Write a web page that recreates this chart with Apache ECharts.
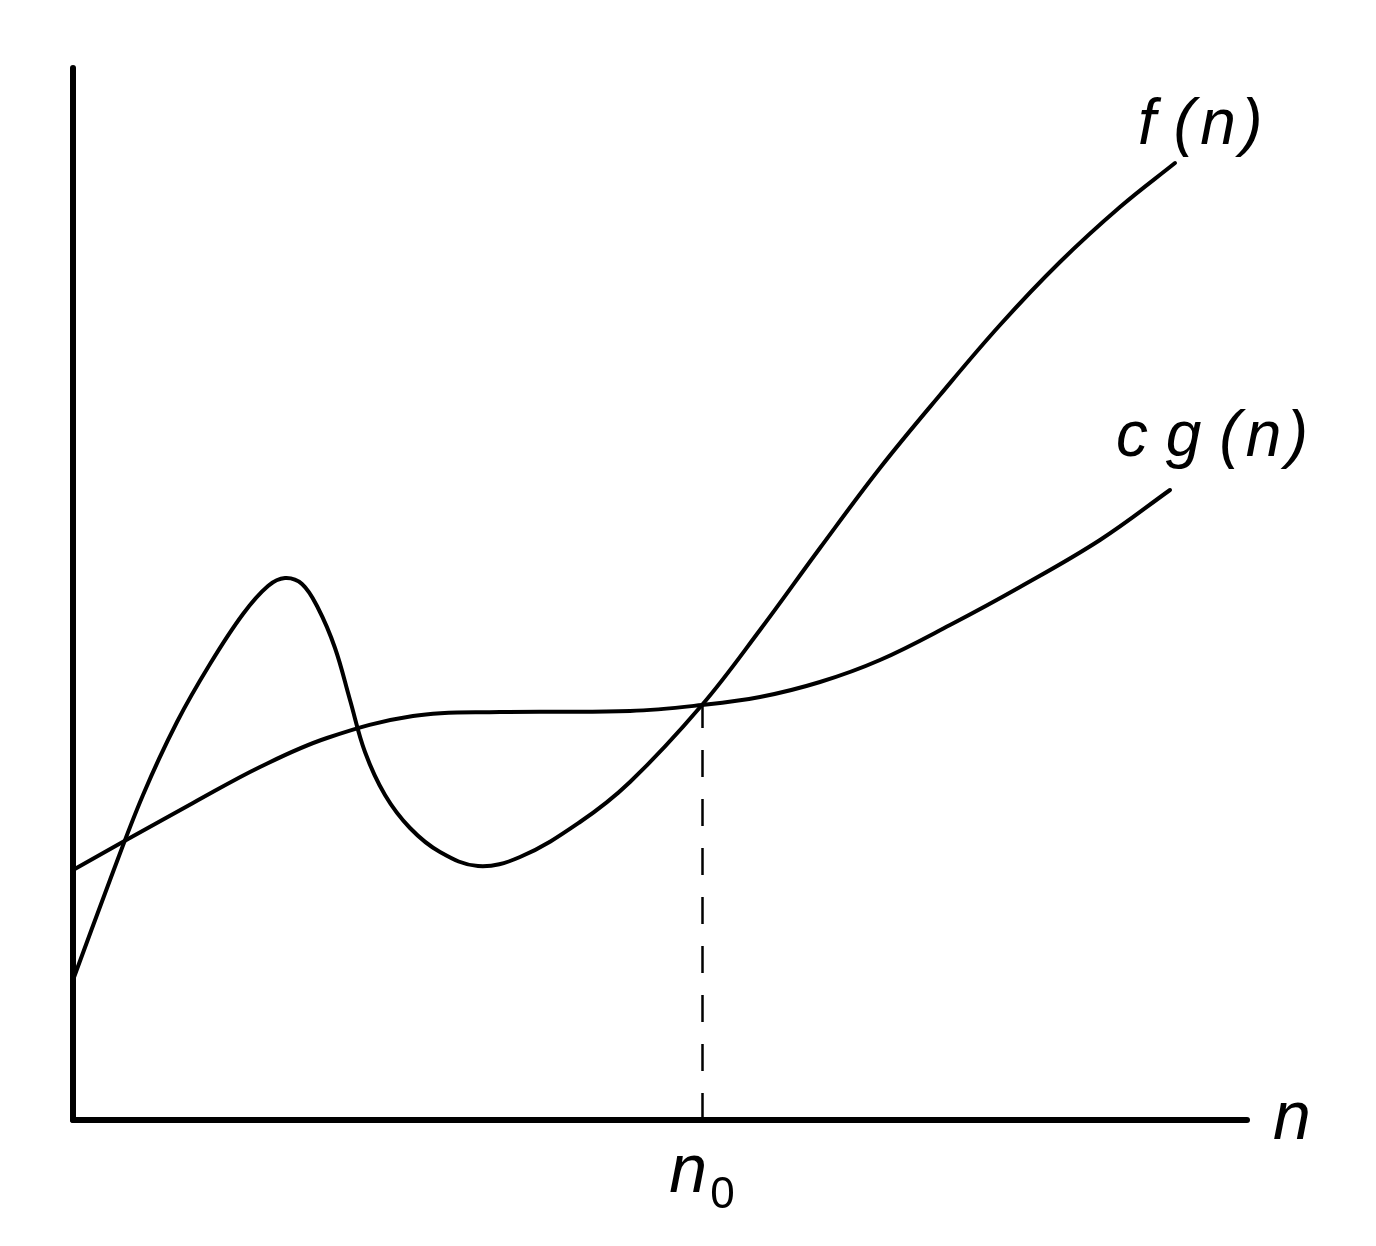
<!DOCTYPE html>
<html>
<head>
<meta charset="utf-8">
<script src="https://cdn.jsdelivr.net/npm/echarts@6/dist/echarts.min.js"></script>
<style>
  html, body { margin: 0; padding: 0; background: #fff; }
  #chart { width: 1376px; height: 1246px; }
</style>
</head>
<body>
<div id="chart"></div>
<script>
// curve points, [n, value]
const fX = [0, 37, 70, 104, 137, 170, 195, 212, 229, 245, 262, 277, 292, 312, 337, 367, 405, 447, 507, 557, 629, 687, 747, 807, 867, 927, 987, 1047, 1102];
const fY = [140, 240, 325, 398, 456, 506, 534, 542, 536, 512, 472, 420, 368, 325, 292, 268, 254, 263, 298, 338, 415, 490, 572, 652, 725, 795, 858, 913, 957];
const gX = [0, 55, 120, 187, 254, 340, 427, 557, 629, 687, 747, 807, 877, 947, 1027, 1097];
const gY = [250, 281, 317, 353, 382, 404, 408, 409, 415, 423, 438, 460, 495, 533, 580, 630];
const n0 = 629;
const n0Y = 415;
const fLabel = 'f (\u200An\u200A)';
const gLabel = 'c g (\u200An\u200A)';
const xName = 'n';

const fontFam = '"Liberation Sans", Arial, sans-serif';
const zip = (xs, ys) => xs.map((x, i) => [x, ys[i]]);

// smooth path through the points (cardinal spline, no clamping)
function smoothPath(pts, s) {
  const n = pts.length;
  const d = (a, b) => Math.hypot(b[0] - a[0], b[1] - a[1]);
  let path = 'M' + pts[0][0] + ',' + pts[0][1];
  for (let i = 0; i < n - 1; i++) {
    const p0 = pts[Math.max(i - 1, 0)], p1 = pts[i], p2 = pts[i + 1], p3 = pts[Math.min(i + 2, n - 1)];
    const d01 = d(p0, p1), d12 = d(p1, p2), d23 = d(p2, p3);
    const r1 = d01 ? d12 / (d01 + d12) : 1;
    const r2 = d23 ? d12 / (d12 + d23) : 1;
    const c1 = [p1[0] + (p2[0] - p0[0]) * s * r1, p1[1] + (p2[1] - p0[1]) * s * r1];
    const c2 = [p2[0] - (p3[0] - p1[0]) * s * r2, p2[1] - (p3[1] - p1[1]) * s * r2];
    path += ' C' + c1.join(',') + ' ' + c2.join(',') + ' ' + p2.join(',');
  }
  return path;
}

function curveSeries(name, xs, ys, label, offset) {
  return {
    name: name, type: 'custom', coordinateSystem: 'cartesian2d',
    data: zip(xs, ys),
    encode: { x: 0, y: 1 },
    renderItem: function (params, api) {
      const last = xs.length - 1;
      if (params.dataIndex === 0) {
        const pts = xs.map((x, i) => api.coord([x, ys[i]]));
        return {
          type: 'path',
          shape: { pathData: smoothPath(pts, 0.38) },
          style: { fill: null, stroke: '#000', lineWidth: 4, lineCap: 'round', lineJoin: 'round' }
        };
      }
      if (params.dataIndex === last) {
        const p = api.coord([xs[last], ys[last]]);
        return {
          type: 'text',
          style: {
            text: label, x: p[0] + offset[0], y: p[1] + offset[1],
            font: 'italic 64px ' + fontFam, fill: '#000',
            align: 'left', verticalAlign: 'middle'
          }
        };
      }
      return null;
    }
  };
}

let myChart = echarts.init(document.getElementById('chart'));
myChart.setOption({
  animation: false,
  grid: { left: 73, right: 129, top: 68, bottom: 126 },
  xAxis: {
    type: 'value', min: 0, max: 1174,
    name: xName, nameLocation: 'end', nameGap: 26,
    nameTextStyle: { fontFamily: fontFam, fontStyle: 'italic', fontSize: 68, color: '#000', verticalAlign: 'middle' },
    axisLine: { lineStyle: { color: '#000', width: 6 } },
    axisTick: { show: false }, axisLabel: { show: false }, splitLine: { show: false }
  },
  yAxis: {
    type: 'value', min: 0, max: 1052,
    axisLine: { show: true, lineStyle: { color: '#000', width: 6 } },
    axisTick: { show: false }, axisLabel: { show: false }, splitLine: { show: false }
  },
  series: [
    curveSeries('f', fX, fY, fLabel, [-37, -37]),
    curveSeries('cg', gX, gY, gLabel, [-54, -52]),
    {
      name: 'n0', type: 'line', symbol: 'none',
      data: [[n0, n0Y]],
      lineStyle: { width: 0 },
      markLine: {
        silent: true, symbol: 'none',
        lineStyle: { color: '#000', width: 2.5, type: [27, 22] },
        label: {
          show: true, position: 'start', distance: 8,
          formatter: '{n|n}{s|0}',
          rich: {
            n: { fontFamily: fontFam, fontStyle: 'italic', fontSize: 68, color: '#000' },
            s: { fontFamily: fontFam, fontSize: 44, color: '#000', padding: [46, 0, 0, 3] }
          }
        },
        data: [[{ coord: [n0, 0] }, { coord: [n0, n0Y] }]]
      }
    }
  ]
});
window.onresize = function () { myChart.resize(); };
</script>
</body>
</html>
